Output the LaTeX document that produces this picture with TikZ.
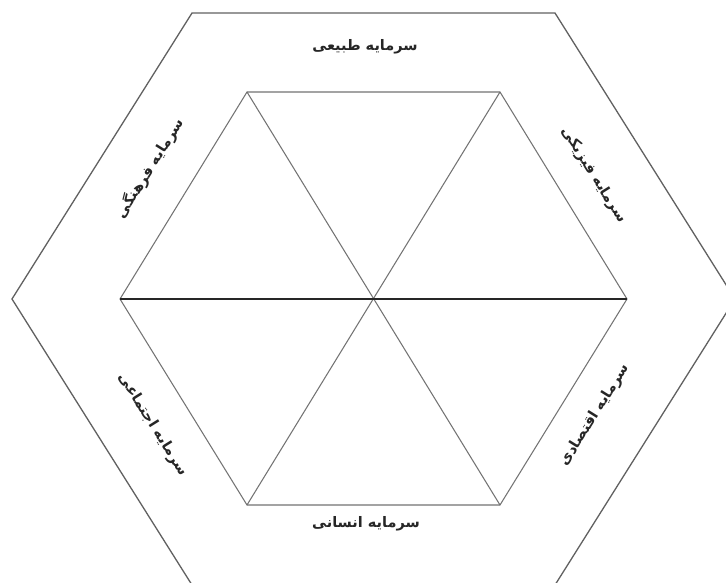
\documentclass[tikz,border=0pt]{standalone}
\usepackage{fontspec}
\newfontfamily\arabicfont[Script=Arabic]{DejaVu Sans}
\TeXXeTstate=1
\begin{document}
\begin{tikzpicture}[x=1pt,y=-1pt,
  outerline/.style={draw=black!62, line width=1.3pt, line join=miter},
  innerline/.style={draw=black!55, line width=1.05pt},
  midline/.style={draw=black!85, line width=1.8pt},
  lbl/.style={font=\arabicfont\bfseries\fontsize{14.5}{16}\selectfont, text=black!85, inner sep=0pt}]
\useasboundingbox (0,0) rectangle (726,583);
\fill[white] (0,0) rectangle (726,583);
% outer hexagon
\coordinate (O1) at (192,13);
\coordinate (O2) at (555,13);
\coordinate (O3) at (735,299);
\coordinate (O4) at (555,585);
\coordinate (O5) at (192,585);
\coordinate (O6) at (12,299);
% inner hexagon
\coordinate (C) at (373.5,299);
\coordinate (I1) at (247,92);
\coordinate (I2) at (500,92);
\coordinate (I3) at (627,299);
\coordinate (I4) at (500,505);
\coordinate (I5) at (247,505);
\coordinate (I6) at (120,299);
\draw[outerline] (O1) -- (O2) -- (O3) -- (O4) -- (O5) -- (O6) -- cycle;
\draw[innerline] (I1) -- (I2) -- (I3) -- (I4) -- (I5) -- (I6) -- cycle;
\draw[innerline] (I1) -- (I4);
\draw[innerline] (I2) -- (I5);
\draw[midline] (I6) -- (I3);
% labels
\node[lbl] (top) at (365,47) {\beginR سرمایه طبیعی\endR};
\node[lbl] (bot) at (366,524) {\beginR سرمایه انسانی\endR};
\node[lbl, rotate=58] (ul) at (150,168) {\beginR سرمایه فرهنگی\endR};
\node[lbl, rotate=-58] (ur) at (594,175) {\beginR سرمایه فیزیکی\endR};
\node[lbl, rotate=-58] (ll) at (153,425) {\beginR سرمایه اجتماعی\endR};
\node[lbl, rotate=58] (lr) at (595,415) {\beginR سرمایه اقتصادی\endR};
\end{tikzpicture}
\end{document}
